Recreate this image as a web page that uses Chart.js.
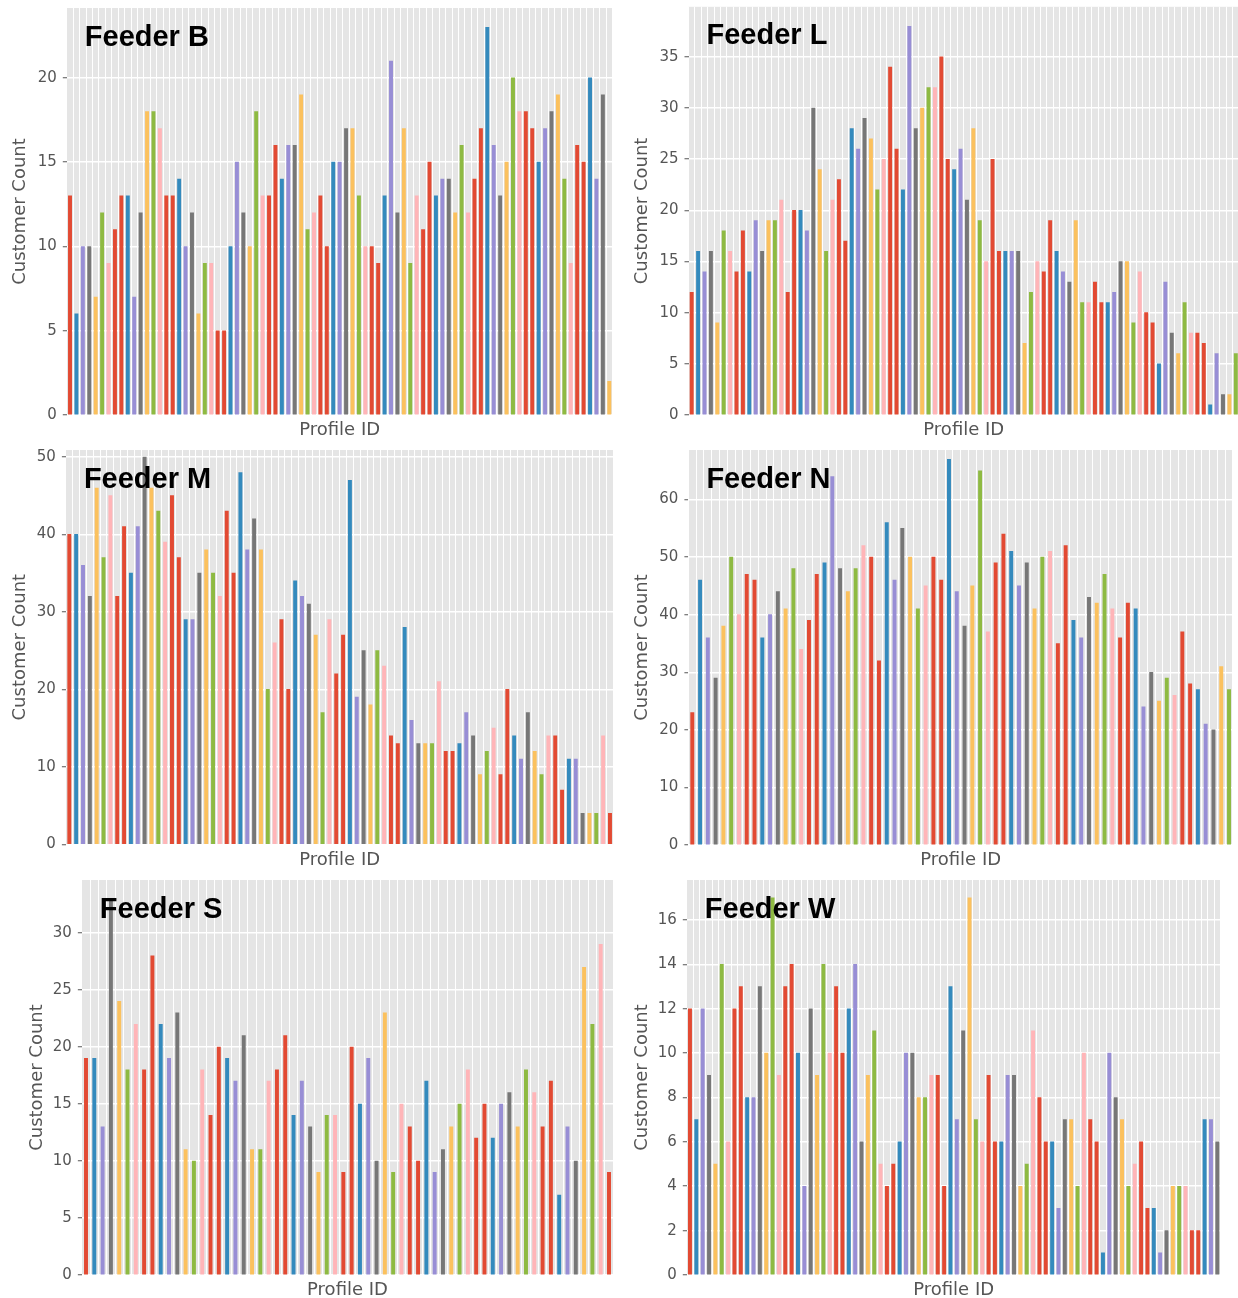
<!DOCTYPE html>
<html>
<head>
<meta charset="utf-8">
<script src="https://cdn.jsdelivr.net/npm/chart.js@4.4.0/dist/chart.umd.min.js"></script>
<style>
  html, body { margin: 0; padding: 0; background: #fff; overflow: hidden; width: 1238px; height: 1298px; position: relative; }
  canvas { position: absolute; }
</style>
</head>
<body>
<canvas id="chartB" width="620" height="440" style="left:0px;top:0px"></canvas>
<canvas id="chartL" width="618" height="440" style="left:622px;top:0px"></canvas>
<canvas id="chartM" width="620" height="430" style="left:0px;top:440px"></canvas>
<canvas id="chartN" width="618" height="430" style="left:622px;top:440px"></canvas>
<canvas id="chartS" width="620" height="428" style="left:0px;top:870px"></canvas>
<canvas id="chartW" width="618" height="428" style="left:622px;top:870px"></canvas>
<script>
// ggplot colour cycle as it shows up in the bars (red comes round twice)
const palette = ["#E24A33", "#348ABD", "#988ED5", "#777777", "#FBC15E", "#8EBA42", "#FFB5B8", "#E24A33"];

// customer count per profile, one array per feeder
const bValues = [13, 6, 10, 10, 7, 12, 9, 11, 13, 13, 7, 12, 18, 18, 17, 13, 13, 14, 10, 12,
  6, 9, 9, 5, 5, 10, 15, 12, 10, 18, 13, 13, 16, 14, 16, 16, 19, 11, 12, 13,
  10, 15, 15, 17, 17, 13, 10, 10, 9, 13, 21, 12, 17, 9, 13, 11, 15, 13, 14, 14,
  12, 16, 12, 14, 17, 23, 16, 13, 15, 20, 18, 18, 17, 15, 17, 18, 19, 14, 9, 16,
  15, 20, 14, 19, 2];
const lValues = [12, 16, 14, 16, 9, 18, 16, 14, 18, 14, 19, 16, 19, 19, 21, 12, 20, 20, 18, 30,
  24, 16, 21, 23, 17, 28, 26, 29, 27, 22, 25, 34, 26, 22, 38, 28, 30, 32, 32, 35,
  25, 24, 26, 21, 28, 19, 15, 25, 16, 16, 16, 16, 7, 12, 15, 14, 19, 16, 14, 13,
  19, 11, 11, 13, 11, 11, 12, 15, 15, 9, 14, 10, 9, 5, 13, 8, 6, 11, 8, 8,
  7, 1, 6, 2, 2, 6];
const mValues = [40, 40, 36, 32, 46, 37, 45, 32, 41, 35, 41, 50, 46, 43, 39, 45, 37, 29, 29, 35,
  38, 35, 32, 43, 35, 48, 38, 42, 38, 20, 26, 29, 20, 34, 32, 31, 27, 17, 29, 22,
  27, 47, 19, 25, 18, 25, 23, 14, 13, 28, 16, 13, 13, 13, 21, 12, 12, 13, 17, 14,
  9, 12, 15, 9, 20, 14, 11, 17, 12, 9, 14, 14, 7, 11, 11, 4, 4, 4, 14, 4];
const nValues = [23, 46, 36, 29, 38, 50, 40, 47, 46, 36, 40, 44, 41, 48, 34, 39, 47, 49, 64, 48,
  44, 48, 52, 50, 32, 56, 46, 55, 50, 41, 45, 50, 46, 67, 44, 38, 45, 65, 37, 49,
  54, 51, 45, 49, 41, 50, 51, 35, 52, 39, 36, 43, 42, 47, 41, 36, 42, 41, 24, 30,
  25, 29, 26, 37, 28, 27, 21, 20, 31, 27];
const sValues = [19, 19, 13, 33, 24, 18, 22, 18, 28, 22, 19, 23, 11, 10, 18, 14, 20, 19, 17, 21,
  11, 11, 17, 18, 21, 14, 17, 13, 9, 14, 14, 9, 20, 15, 19, 10, 23, 9, 15, 13,
  10, 17, 9, 11, 13, 15, 18, 12, 15, 12, 15, 16, 13, 18, 16, 13, 17, 7, 13, 10,
  27, 22, 29, 9];
const wValues = [12, 7, 12, 9, 5, 14, 6, 12, 13, 8, 8, 13, 10, 17, 9, 13, 14, 10, 4, 12,
  9, 14, 10, 13, 10, 12, 14, 6, 9, 11, 5, 4, 5, 6, 10, 10, 8, 8, 9, 9,
  4, 13, 7, 11, 17, 7, 6, 9, 6, 6, 9, 9, 4, 5, 11, 8, 6, 6, 3, 7,
  7, 4, 10, 7, 6, 1, 10, 8, 7, 4, 5, 6, 3, 3, 1, 2, 4, 4, 4, 2,
  2, 7, 7, 6];

// y tick labels per feeder
const bTicks = [0, 5, 10, 15, 20];
const lTicks = [0, 5, 10, 15, 20, 25, 30, 35];
const mTicks = [0, 10, 20, 30, 40, 50];
const nTicks = [0, 10, 20, 30, 40, 50, 60];
const sTicks = [0, 5, 10, 15, 20, 25, 30];
const wTicks = [0, 2, 4, 6, 8, 10, 12, 14, 16];

const textGrey = "#555555";

// grey panel behind the bars
const plotBackground = {
  id: "plotBackground",
  beforeDraw(chart) {
    const { ctx, chartArea } = chart;
    ctx.save();
    ctx.fillStyle = "#E5E5E5";
    ctx.fillRect(chartArea.left, chartArea.top, chartArea.width, chartArea.height);
    ctx.restore();
  },
};

// big bold label inside the top-left corner of each panel
function feederLabel(text) {
  return {
    id: "feederLabel",
    afterDatasetsDraw(chart) {
      const { ctx, chartArea } = chart;
      ctx.save();
      ctx.font = 'bold 29px "Liberation Sans", Arial, sans-serif';
      ctx.fillStyle = "#000";
      ctx.textBaseline = "alphabetic";
      ctx.fillText(text, chartArea.left + 18, chartArea.top + 37.5);
      ctx.restore();
    },
  };
}

function drawFeeder(p) {
  const ctx = document.getElementById(p.id).getContext("2d");
  const labels = p.values.map((v, i) => String(i + 1));
  const colors = p.values.map((v, i) => palette[i % palette.length]);

  return new Chart(ctx, {
    type: "bar",
    data: {
      labels: labels,
      datasets: [
        {
          data: p.values,
          backgroundColor: colors,
          barThickness: 3.3,
        },
      ],
    },
    options: {
      responsive: false,
      animation: false,
      layout: {
        padding: { top: p.padTop, right: p.padRight, left: 0, bottom: 0 },
      },
      plugins: {
        legend: { display: false },
        tooltip: { enabled: false },
      },
      scales: {
        x: {
          grid: { color: "#FFFFFF", lineWidth: 1, offset: true, drawTicks: false },
          border: { display: false },
          ticks: { display: false },
          title: {
            display: true,
            text: "Profile ID",
            color: textGrey,
            font: { family: "DejaVu Sans", size: 18 },
            padding: { top: 0, bottom: p.xTitlePad },
          },
          afterFit(scale) {
            scale.height = p.axisH;
            scale.paddingLeft = 0;
            scale.paddingRight = 0;
          },
        },
        y: {
          min: 0,
          max: p.yMax,
          bounds: "data",
          afterBuildTicks(scale) {
            scale.ticks = p.ticks.map((v) => ({ value: v }));
          },
          grid: { color: "#FFFFFF", lineWidth: 1.5, tickColor: textGrey, tickLength: 4, tickWidth: 1 },
          border: { display: false },
          ticks: {
            color: textGrey,
            font: { family: "DejaVu Sans", size: 15 },
            padding: 6,
          },
          title: {
            display: true,
            text: "Customer Count",
            color: textGrey,
            font: { family: "DejaVu Sans", size: 18 },
            padding: { top: p.titlePad, bottom: 0 },
          },
          afterFit(scale) {
            scale.width = p.axisW;
            scale.paddingTop = 0;
            scale.paddingBottom = 0;
          },
        },
      },
    },
    plugins: [plotBackground, feederLabel(p.title)],
  });
}

const feeders = [
  { id: "chartB", title: "Feeder B", values: bValues, ticks: bTicks, yMax: 24.15, axisW: 66.8, padTop: 8, padRight: 7.5, axisH: 25, titlePad: 9.2, xTitlePad: -1.5 },
  { id: "chartL", title: "Feeder L", values: lValues, ticks: lTicks, yMax: 39.9, axisW: 66.5, padTop: 6.8, padRight: 1, axisH: 25, titlePad: 9.2, xTitlePad: -1.5 },
  { id: "chartM", title: "Feeder M", values: mValues, ticks: mTicks, yMax: 50.9, axisW: 65.9, padTop: 10, padRight: 6.6, axisH: 25.7, titlePad: 9.2, xTitlePad: -1 },
  { id: "chartN", title: "Feeder N", values: nValues, ticks: nTicks, yMax: 68.6, axisW: 66.4, padTop: 10, padRight: 7.1, axisH: 25, titlePad: 9.2, xTitlePad: -1 },
  { id: "chartS", title: "Feeder S", values: sValues, ticks: sTicks, yMax: 34.65, axisW: 81.85, padTop: 10, padRight: 6.85, axisH: 23, titlePad: 26.2, xTitlePad: -3 },
  { id: "chartW", title: "Feeder W", values: wValues, ticks: wTicks, yMax: 17.8, axisW: 64.8, padTop: 10, padRight: 19.5, axisH: 23, titlePad: 9.2, xTitlePad: -3 },
];

feeders.forEach(drawFeeder);
</script>
</body>
</html>
